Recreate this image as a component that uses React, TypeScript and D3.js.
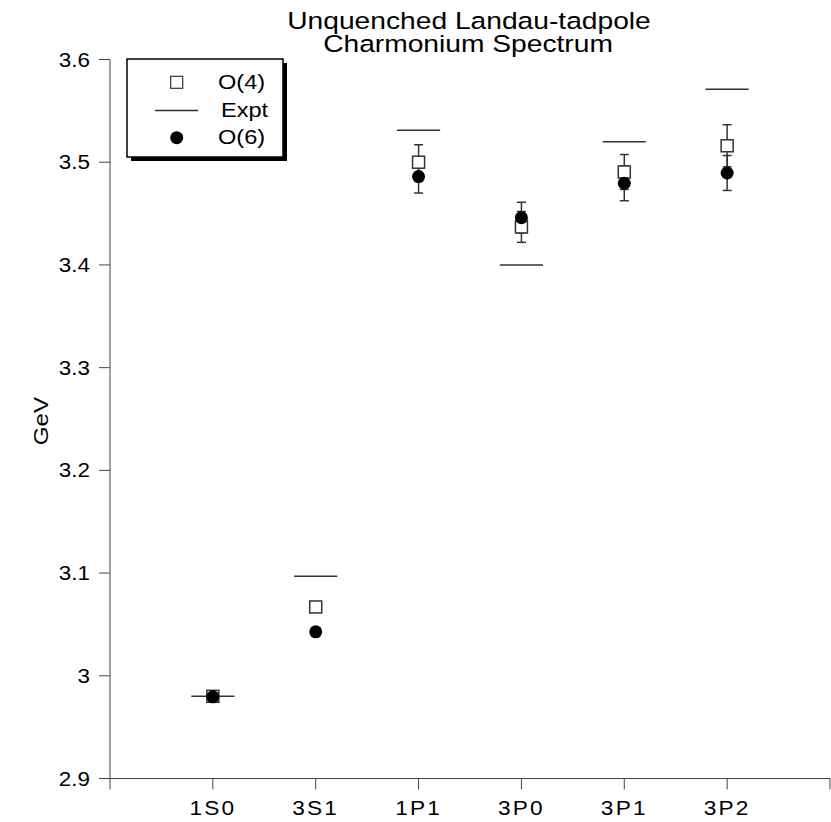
import React from "react";
import * as d3 from "d3";

const categories = ["1S0", "3S1", "1P1", "3P0", "3P1", "3P2"];
const expt = [2.98, 3.097, 3.531, 3.4, 3.52, 3.571];
const o4 = [2.98, 3.067, 3.5, 3.437, 3.4905, 3.516];
const o4Err = [0, 0, 0.017, 0.015, 0.017, 0.0205];
const o6 = [2.9795, 3.0428, 3.486, 3.446, 3.4795, 3.4895];
const o6Err = [0, 0, 0.016, 0.015, 0.017, 0.017];
const yTicks = [2.9, 3.0, 3.1, 3.2, 3.3, 3.4, 3.5, 3.6];
const yTickLabels = ["2.9", "3", "3.1", "3.2", "3.3", "3.4", "3.5", "3.6"];
const titleLines = ["Unquenched Landau-tadpole", "Charmonium Spectrum"];

const W = 831;
const H = 822;
const FONT = "'Liberation Sans', Arial, sans-serif";

function SText({ x, y, size, anchor = "start", sx = 1.15, rotate = 0, children, ls = 0 }: any) {
  return (
    <text
      transform={`translate(${x},${y}) rotate(${rotate}) scale(${sx},1)`}
      fontSize={size}
      fontFamily={FONT}
      textAnchor={anchor}
      letterSpacing={ls}
      fill="#000"
    >
      {children}
    </text>
  );
}

export default function App() {
  const x = d3.scaleLinear().domain([0, 7]).range([110, 830]);
  const y = d3.scaleLinear().domain([2.9, 3.6]).range([778.5, 59.5]);
  const xTicks = d3.range(0, 8);
  const half = 0.21;
  const cap = 4.5;
  const sq = 12;
  const r = 6.5;
  const axisColor = "#444";

  return (
    <svg width={W} height={H} style={{ position: "absolute", left: 0, top: 0, background: "#fff" }}>
      <rect x={0} y={0} width={W} height={H} fill="#fff" />
      {/* Title */}
      <SText x={469} y={29} size={23.5} anchor="middle" sx={1.2}>{titleLines[0]}</SText>
      <SText x={468} y={52} size={23.5} anchor="middle" sx={1.2}>{titleLines[1]}</SText>

      {/* Y axis */}
      <line x1={110} x2={110} y1={y(3.6)} y2={y(2.9)} stroke={axisColor} strokeWidth={1} />
      {yTicks.map((t, i) => (
        <g key={"yt" + i}>
          <line x1={99} x2={110} y1={y(t)} y2={y(t)} stroke={axisColor} strokeWidth={1} />
          <SText x={90} y={y(t) + 7} size={19.5} anchor="end" sx={1.15}>{yTickLabels[i]}</SText>
        </g>
      ))}
      <SText x={48} y={421} size={21} anchor="middle" rotate={-90} sx={1.15}>GeV</SText>

      {/* X axis */}
      <line x1={x(0)} x2={x(7)} y1={y(2.9)} y2={y(2.9)} stroke={axisColor} strokeWidth={1} />
      {xTicks.map((t) => (
        <line key={"xt" + t} x1={x(t)} x2={x(t)} y1={y(2.9)} y2={y(2.9) + 11} stroke={axisColor} strokeWidth={1} />
      ))}
      {categories.map((c, i) => (
        <SText key={"xl" + i} x={x(i + 1)} y={815} size={21} anchor="middle" sx={1.08} ls={2}>{c}</SText>
      ))}

      {/* Expt lines */}
      {expt.map((v, i) => (
        <line key={"ex" + i} x1={x(i + 1 - half)} x2={x(i + 1 + half)} y1={y(v)} y2={y(v)} stroke="#333" strokeWidth={1.5} />
      ))}

      {/* Error bars */}
      {o4.map((v, i) =>
        o4Err[i] > 0 ? (
          <g key={"e4" + i} stroke="#333" strokeWidth={1.5}>
            <line x1={x(i + 1)} x2={x(i + 1)} y1={y(v + o4Err[i])} y2={y(v - o4Err[i])} />
            <line x1={x(i + 1) - cap} x2={x(i + 1) + cap} y1={y(v + o4Err[i])} y2={y(v + o4Err[i])} />
            <line x1={x(i + 1) - cap} x2={x(i + 1) + cap} y1={y(v - o4Err[i])} y2={y(v - o4Err[i])} />
          </g>
        ) : null
      )}
      {o6.map((v, i) =>
        o6Err[i] > 0 ? (
          <g key={"e6" + i} stroke="#333" strokeWidth={1.5}>
            <line x1={x(i + 1)} x2={x(i + 1)} y1={y(v + o6Err[i])} y2={y(v - o6Err[i])} />
            <line x1={x(i + 1) - cap} x2={x(i + 1) + cap} y1={y(v + o6Err[i])} y2={y(v + o6Err[i])} />
            <line x1={x(i + 1) - cap} x2={x(i + 1) + cap} y1={y(v - o6Err[i])} y2={y(v - o6Err[i])} />
          </g>
        ) : null
      )}

      {/* O(4) squares */}
      {o4.map((v, i) => (
        <rect key={"s" + i} x={x(i + 1) - sq / 2} y={y(v) - sq / 2} width={sq} height={sq} fill="#fff" stroke="#333" strokeWidth={1.5} />
      ))}
      {/* O(6) circles */}
      {o6.map((v, i) => (
        <circle key={"c" + i} cx={x(i + 1)} cy={y(v)} r={r} fill="#000" />
      ))}

      {/* Legend */}
      <rect x={131} y={63} width={156} height={98} fill="#000" />
      <rect x={127} y={59} width={156} height={98} fill="#fff" stroke="#000" strokeWidth={1.5} />
      <rect x={176.7 - 6} y={82.3 - 6} width={12} height={12} fill="#fff" stroke="#333" strokeWidth={1.2} />
      <SText x={218} y={89} size={20.5} sx={1.15}>O(4)</SText>
      <line x1={155} x2={198} y1={110.5} y2={110.5} stroke="#333" strokeWidth={1.5} />
      <SText x={221} y={117} size={20.5} sx={1.15}>Expt</SText>
      <circle cx={176.7} cy={137.7} r={6.5} fill="#000" />
      <SText x={218} y={144} size={20.5} sx={1.15}>O(6)</SText>
    </svg>
  );
}
